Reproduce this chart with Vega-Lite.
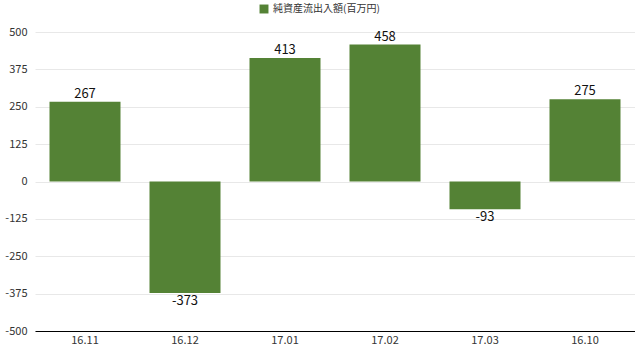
{
  "$schema": "https://vega.github.io/schema/vega-lite/v6.json",
  "width": 600,
  "height": 299,
  "autosize": {"type": "none"},
  "padding": {"left": 35, "top": 32, "right": 0, "bottom": 15},
  "config": {
    "font": "Noto Sans CJK JP",
    "view": {"stroke": null}
  },
  "data": {
    "values": [
      {"month": "16.11", "value": 267, "series": "純資産流出入額(百万円)"},
      {"month": "16.12", "value": -373, "series": "純資産流出入額(百万円)"},
      {"month": "17.01", "value": 413, "series": "純資産流出入額(百万円)"},
      {"month": "17.02", "value": 458, "series": "純資産流出入額(百万円)"},
      {"month": "17.03", "value": -93, "series": "純資産流出入額(百万円)"},
      {"month": "16.10", "value": 275, "series": "純資産流出入額(百万円)"}
    ]
  },
  "encoding": {
    "x": {
      "field": "month", "type": "nominal", "sort": null,
      "scale": {"paddingInner": 0.29, "paddingOuter": 0.145},
      "axis": {"title": null, "labelAngle": 0, "ticks": false, "domainColor": "#000000", "labelColor": "#333333", "labelFontSize": 11, "labelPadding": 3, "offset": 0}
    },
    "y": {
      "field": "value", "type": "quantitative",
      "scale": {"domain": [-500, 500], "nice": false, "zero": false},
      "axis": {"title": null, "values": [-500, -375, -250, -125, 0, 125, 250, 375, 500], "labelExpr": "toString(datum.value)", "ticks": false, "domain": false, "gridColor": "#e8e8e8", "labelColor": "#333333", "labelFontSize": 11, "labelPadding": 8}
    }
  },
  "layer": [
    {
      "mark": {"type": "bar"},
      "encoding": {
        "color": {
          "field": "series", "type": "nominal",
          "scale": {"range": ["#548235"]},
          "legend": {"title": null, "orient": "none", "legendX": 224, "legendY": -28, "symbolType": "square", "symbolSize": 80, "labelFontSize": 10, "labelColor": "#333333", "symbolStrokeWidth": 0}
        }
      }
    },
    {
      "transform": [{"filter": "datum.value >= 0"}],
      "mark": {"type": "text", "baseline": "bottom", "dy": -1, "fontSize": 13, "color": "#111111"},
      "encoding": {"text": {"field": "value", "type": "nominal"}}
    },
    {
      "transform": [{"filter": "datum.value < 0"}],
      "mark": {"type": "text", "baseline": "top", "dy": 2, "fontSize": 13, "color": "#111111"},
      "encoding": {"text": {"field": "value", "type": "nominal"}}
    }
  ]
}
